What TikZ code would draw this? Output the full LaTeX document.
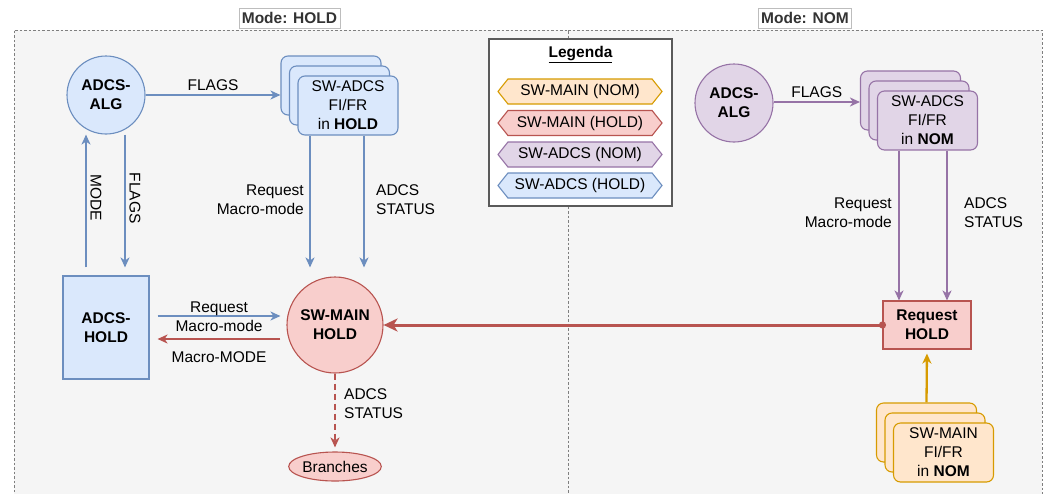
\documentclass[tikz,border=0pt]{standalone}
\usepackage{fontspec}
\setmainfont{Liberation Sans}
\usetikzlibrary{arrows.meta,shapes.symbols,shapes.geometric}

\definecolor{blueF}{HTML}{DAE8FC}\definecolor{blueD}{HTML}{6C8EBF}
\definecolor{redF}{HTML}{F8CECC}\definecolor{redD}{HTML}{B85450}
\definecolor{purF}{HTML}{E1D5E7}\definecolor{purD}{HTML}{9673A6}
\definecolor{orF}{HTML}{FFE6CC}\definecolor{orD}{HTML}{D79B00}
\definecolor{panel}{HTML}{F5F5F5}
\definecolor{frame}{HTML}{7F7F7F}
\definecolor{legframe}{HTML}{5A5A5A}
\definecolor{titleframe}{HTML}{BDBDBD}
\definecolor{titletext}{HTML}{333333}

\newcommand{\lblfont}{\fontsize{15.5}{19}\selectfont}

\tikzset{
  every node/.style={font=\lblfont, align=center, text=black},
  tipS/.style={-{Stealth[length=10pt,width=9pt,inset=3pt]}},
  bw/.style={tipS, draw=blueD, line width=2.3pt},
  pw/.style={tipS, draw=purD, line width=2.3pt},
  ow/.style={tipS, draw=orD, line width=2.3pt},
  rw/.style={tipS, draw=redD, line width=2.3pt},
  bigred/.style={{Circle[length=7pt]}-{Stealth[length=14pt,width=13pt,inset=4pt]},
                 draw=redD, line width=3pt},
  circ/.style={circle, line width=1.1pt, minimum size=78pt, inner sep=0pt, font=\lblfont\bfseries},
  card/.style={rounded corners=7pt, line width=1.1pt, minimum width=100pt, minimum height=59pt, inner sep=0pt},
  box/.style={rectangle, line width=1.1pt, inner sep=0pt, font=\lblfont\bfseries},
  tag/.style={signal, signal to=west and east, signal pointer angle=103, line width=1.1pt,
              minimum width=164pt, minimum height=25pt, inner sep=0pt},
  title/.style={draw=titleframe, line width=0.7pt, fill=white, text=titletext, font=\lblfont\bfseries,
                minimum height=20pt, inner sep=3pt},
  lblL/.style={anchor=west, align=left, inner sep=0pt},
  lblR/.style={anchor=east, align=right, inner sep=0pt},
}

\begin{document}
\begin{tikzpicture}[x=1pt,y=-1pt]
\useasboundingbox[fill=white] (0,0) rectangle (1046,493);

% mode panels
\fill[panel] (14,30) rectangle (1042,510);
\draw[frame, line width=0.7pt, dash pattern=on 2.5pt off 2pt] (14,510) -- (14,30) -- (568,30) -- (568,510);
\draw[frame, line width=0.7pt, dash pattern=on 2.5pt off 2pt] (568,30) -- (1042,30) -- (1042,510);
\node[title] (tHold) at (289.5,18) {Mode: HOLD};
\node[title] (tNom) at (805,18) {Mode: NOM};

% ---------------- HOLD side ----------------
\node[circ, draw=blueD, fill=blueF] (algH) at (106,95) {ADCS-\\ALG};
\node[card, draw=blueD, fill=blueF] (hb3) at (331,85.5) {};
\node[card, draw=blueD, fill=blueF] (hb2) at (339.5,95.5) {};
\node[card, draw=blueD, fill=blueF] (hb1) at (348,105.5) {SW-ADCS\\FI/FR\\in \textbf{HOLD}};
\node[box, draw=blueD, fill=blueF, minimum width=86pt, minimum height=103pt] (holdB) at (106,327.5) {ADCS-\\HOLD};
\node[circ, draw=redD, fill=redF, minimum size=96pt] (mainH) at (335,325) {SW-MAIN\\HOLD};
\node[ellipse, draw=redD, fill=redF, line width=1.1pt, minimum width=78pt, minimum height=29pt, inner sep=0pt] (br) at (335,466.5) {Branches};

\draw[bw] (algH.east) -- (algH.east -| hb3.west) node[midway, above=0pt] {FLAGS};
\draw[bw, shorten <=8pt] (holdB.north -| 86,0) -- (algH.south -| 86,0);
\draw[bw, shorten >=8pt] (algH.south -| 125,0) -- (holdB.north -| 125,0);
\node[rotate=-90, inner sep=0pt] (lMode) at (96,198) {MODE};
\node[rotate=-90, inner sep=0pt] (lFlagsV) at (135,198) {FLAGS};

\draw[bw, shorten >=9pt] (hb1.south -| 310,0) -- (mainH.north -| 310,0);
\draw[bw, shorten >=9pt] (hb1.south -| 364,0) -- (mainH.north -| 364,0);
\node[lblR] (lReqH) at (304,199.5) {Request\\Macro-mode};
\node[lblL] (lStatH) at (376,199.5) {ADCS\\STATUS};

\draw[bw, shorten <=8pt, shorten >=6pt] (holdB.east |- 0,316) -- (mainH.west |- 0,316);
\draw[rw, shorten <=6pt, shorten >=8pt] (mainH.west |- 0,339) -- (holdB.east |- 0,339);
\node[inner sep=0pt] (lReqMid) at (219,317) {Request\\Macro-mode};
\node[inner sep=0pt] (lMM) at (219,357) {Macro-MODE};

\draw[rw, dash pattern=on 6pt off 4pt, shorten >=4pt] (mainH.south) -- (br.north);
\node[lblL] (lStatB) at (344,404) {ADCS\\STATUS};

% ---------------- legend ----------------
\node[draw=legframe, fill=white, line width=1.4pt, minimum width=183pt, minimum height=167pt] (leg) at (580.5,122.5) {};
\node[font=\lblfont\bfseries, inner sep=0pt] (legT) at (580.5,55) {\underline{Legenda}};
\node[tag, draw=orD, fill=orF] (k1) at (580,91.5) {SW-MAIN (NOM)};
\node[tag, draw=redD, fill=redF] (k2) at (580,123) {SW-MAIN (HOLD)};
\node[tag, draw=purD, fill=purF] (k3) at (580,154.5) {SW-ADCS (NOM)};
\node[tag, draw=blueD, fill=blueF] (k4) at (580,185.5) {SW-ADCS (HOLD)};

% ---------------- NOM side ----------------
\node[circ, draw=purD, fill=purF] (algN) at (734,103) {ADCS-\\ALG};
\node[card, draw=purD, fill=purF] (pb3) at (910.5,100.5) {};
\node[card, draw=purD, fill=purF] (pb2) at (919,110.5) {};
\node[card, draw=purD, fill=purF] (pb1) at (927.5,120.5) {SW-ADCS\\FI/FR\\in \textbf{NOM}};
\node[box, draw=redD, fill=redF, minimum width=88pt, minimum height=48pt] (reqH) at (927,325) {Request\\HOLD};
\node[card, draw=orD, fill=orF] (ob3) at (926.5,432.5) {};
\node[card, draw=orD, fill=orF] (ob2) at (935,442.5) {};
\node[card, draw=orD, fill=orF] (ob1) at (943.5,452.5) {SW-MAIN\\FI/FR\\in \textbf{NOM}};

\draw[pw] (algN.east |- 0,102) -- (pb3.west |- 0,102) node[midway, above=0pt] {FLAGS};
\draw[pw] (pb1.south -| 899,0) -- (reqH.north -| 899,0);
\draw[pw] (pb1.south -| 947,0) -- (reqH.north -| 947,0);
\node[lblR] (lReqN) at (892,212.5) {Request\\Macro-mode};
\node[lblL] (lStatN) at (964,212.5) {ADCS\\STATUS};

\draw[ow, shorten >=4pt] (ob3.north) -- (reqH.south);

% HOLD request back to the main software
\draw[bigred, shorten <=-3.5pt] (reqH.west) -- (mainH.east);
\end{tikzpicture}
\end{document}
